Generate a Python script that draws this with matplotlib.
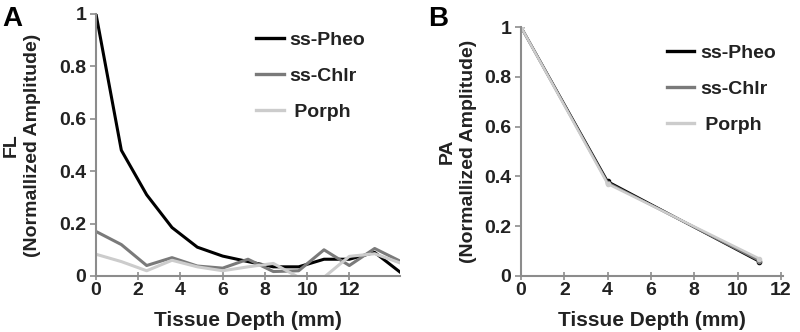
import numpy as np
import matplotlib
matplotlib.use('Agg')
from matplotlib import pyplot as plt
from matplotlib.lines import Line2D

plt.rcParams['font.family'] = ['Liberation Sans', 'DejaVu Sans']
plt.rcParams['font.weight'] = 'bold'

# panel A: fluorescence vs depth
depth_fl = [0, 1.2, 2.4, 3.6, 4.8, 6.0, 7.2, 8.4, 9.6, 10.8, 12.0, 13.2, 14.4]
fl_pheo = [1.0, 0.48, 0.31, 0.185, 0.11, 0.076, 0.055, 0.035, 0.035, 0.064, 0.064, 0.09, 0.015]
fl_chlr = [0.17, 0.12, 0.04, 0.07, 0.038, 0.03, 0.064, 0.017, 0.02, 0.1, 0.04, 0.105, 0.057]
fl_porph = [0.083, 0.055, 0.02, 0.06, 0.035, 0.02, 0.035, 0.048, -0.005, -0.005, 0.075, 0.085, 0.05]

# panel B: photoacoustic vs depth
depth_pa = [0, 4, 11]
pa_pheo = [1.0, 0.38, 0.058]
pa_chlr = [1.0, 0.375, 0.062]
pa_porph = [1.0, 0.37, 0.07]

names = ['ss-Pheo', 'ss-Chlr', ' Porph']
colors = ['#000000', '#7a7a7a', '#cccccc']
axcol = '#8c8c8c'
txtcol = '#222222'
fs = 14

fig = plt.figure(figsize=(8, 3.32), dpi=100)
axA = fig.add_axes([96/800, 1-276/332, 304/800, 262/332])
axB = fig.add_axes([521/800, 1-276/332, 262/800, 249/332])


def style(ax, ylab, lx, legx):
    for s in ['top', 'right']:
        ax.spines[s].set_visible(False)
    for s in ['left', 'bottom']:
        ax.spines[s].set_color(axcol)
        ax.spines[s].set_linewidth(1.5)
    ax.set_ylim(0, 1.0)
    ax.set_xticks([0, 2, 4, 6, 8, 10, 12])
    ax.set_yticks([0, 0.2, 0.4, 0.6, 0.8, 1.0])
    ax.set_yticklabels(['0', '0.2', '0.4', '0.6', '0.8', '1'])
    ax.tick_params(axis='both', colors=axcol, labelcolor=txtcol, labelsize=fs, width=1.2)
    ax.tick_params(axis='y', direction='out', length=4, pad=3)
    ax.tick_params(axis='x', direction='inout', length=6, pad=1)
    for t in ax.get_xticklabels() + ax.get_yticklabels():
        t.set_fontweight('bold')
    ax.set_xlabel('Tissue Depth (mm)', fontsize=15, color=txtcol, fontweight='bold', labelpad=9)
    ax.set_ylabel(ylab, fontsize=fs, color=txtcol, fontweight='bold', linespacing=1.35)
    ax.yaxis.set_label_coords(lx, 0.5)
    handles = [Line2D([], [], color=c, lw=2.4) for c in colors]
    leg = ax.legend(handles, names, frameon=False, loc='upper left',
                    bbox_to_anchor=(legx, 1.0), fontsize=fs,
                    handlelength=1.4, labelspacing=0.95, handletextpad=0.3)
    for t in leg.get_texts():
        t.set_fontweight('bold')
        t.set_color(txtcol)


for y, c in zip([fl_pheo, fl_chlr, fl_porph], colors):
    axA.plot(depth_fl, y, color=c, lw=2.2, clip_on=True)
axA.set_xlim(0, 14.4)
style(axA, 'FL\n(Normallized Amplitude)', -0.18, 0.47)

for y, c in zip([pa_pheo, pa_chlr, pa_porph], colors):
    axB.plot(depth_pa, y, color=c, lw=1.8, marker='o', ms=3)
axB.set_xlim(0, 12.1)
style(axB, 'PA\n(Normallized Amplitude)', -0.168, 0.49)

fig.text(2/800, 1-26/332, 'A', fontsize=20, fontweight='bold')
fig.text(428/800, 1-26/332, 'B', fontsize=20, fontweight='bold')

fig.savefig('out.png', dpi=100)
